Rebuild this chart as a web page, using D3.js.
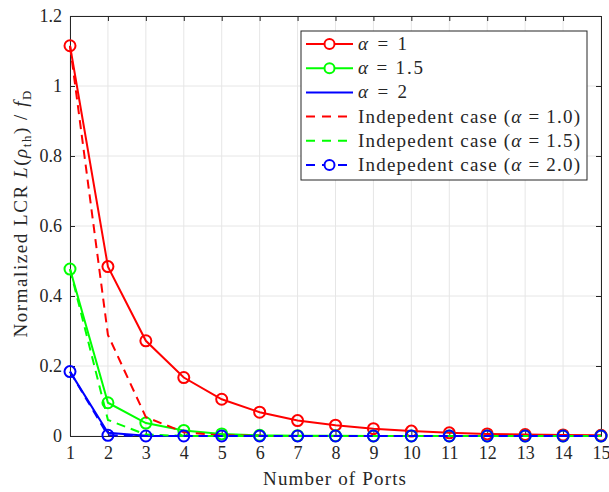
<!DOCTYPE html>
<html>
<head>
<meta charset="utf-8">
<script src="https://cdn.jsdelivr.net/npm/d3@7"></script>
<style>
  body { margin: 0; background: #fff; }
  text { font-family: "Liberation Serif", "DejaVu Serif", serif; fill: #262626; }
</style>
</head>
<body>
<div id="chart"></div>
<script>
// number of ports
var ports = [1, 2, 3, 4, 5, 6, 7, 8, 9, 10, 11, 12, 13, 14, 15];

// correlated case
var alpha1 = [1.115, 0.484, 0.272, 0.167, 0.105, 0.068, 0.044, 0.031, 0.021, 0.014, 0.009, 0.006, 0.004, 0.003, 0.002];
var alpha15 = [0.477, 0.095, 0.037, 0.016, 0.006, 0.002, 0.001, 0.0005, 0.0002, 0.0001, 0, 0, 0, 0, 0];
var alpha2 = [0.184, 0.009, 0.001, 0.0002, 0, 0, 0, 0, 0, 0, 0, 0, 0, 0, 0];

// independent case
var indep1 = [1.115, 0.289, 0.054, 0.011, 0.002, 0.0004, 0, 0, 0, 0, 0, 0, 0, 0, 0];
var indep15 = [0.477, 0.046, 0.004, 0.0003, 0, 0, 0, 0, 0, 0, 0, 0, 0, 0, 0];
var indep2 = [0.184, 0.002, 0, 0, 0, 0, 0, 0, 0, 0, 0, 0, 0, 0, 0];

var yTicks = [0, 0.2, 0.4, 0.6, 0.8, 1, 1.2];

var series = [
  { label: ['α', ' = 1'], len: 49, values: alpha1, color: '#ff0000', dash: null, marker: true },
  { label: ['α', ' = 1.5'], len: 65, values: alpha15, color: '#00ff00', dash: null, marker: true },
  { label: ['α', ' = 2'], len: 49, values: alpha2, color: '#0000ff', dash: null, marker: false },
  { label: ['Indepedent case (', 'α', ' = 1.0)'], len: 222, values: indep1, color: '#ff0000', dash: '9,6', marker: false },
  { label: ['Indepedent case (', 'α', ' = 1.5)'], len: 222, values: indep15, color: '#00ff00', dash: '9,6', marker: false },
  { label: ['Indepedent case (', 'α', ' = 2.0)'], len: 222, values: indep2, color: '#0000ff', dash: '9,6', marker: true }
];

var width = 609, height = 492;
var margin = { top: 16, right: 8, bottom: 56, left: 70 };
var w = width - margin.left - margin.right;
var h = height - margin.top - margin.bottom;

var svg = d3.select('#chart').append('svg')
    .attr('width', width)
    .attr('height', height);

var g = svg.append('g')
    .attr('transform', 'translate(' + margin.left + ',' + margin.top + ')');

var x = d3.scaleLinear().domain([1, 15]).range([0, w]);
var y = d3.scaleLinear().domain([0, 1.2]).range([h, 0]);

// grid
g.append('g').selectAll('line').data(ports).enter().append('line')
    .attr('x1', function(d) { return x(d); })
    .attr('x2', function(d) { return x(d); })
    .attr('y1', 0).attr('y2', h)
    .attr('stroke', '#e6e6e6').attr('stroke-width', 1);
g.append('g').selectAll('line').data(yTicks).enter().append('line')
    .attr('y1', function(d) { return y(d); })
    .attr('y2', function(d) { return y(d); })
    .attr('x1', 0).attr('x2', w)
    .attr('stroke', '#e6e6e6').attr('stroke-width', 1);

// axes
var xAxis = g.append('g')
    .attr('transform', 'translate(0,' + h + ')')
    .call(d3.axisBottom(x).tickValues(ports).tickSizeInner(-5).tickSizeOuter(0).tickPadding(10).tickFormat(d3.format('d')));
var yAxis = g.append('g')
    .call(d3.axisLeft(y).tickValues(yTicks).tickSizeInner(-5).tickSizeOuter(0).tickPadding(8).tickFormat(function(d) { return d3.format('')(d); }));
var xTop = g.append('g')
    .call(d3.axisTop(x).tickValues(ports).tickSizeInner(-5).tickSizeOuter(0).tickFormat(''));
var yRight = g.append('g')
    .attr('transform', 'translate(' + w + ',0)')
    .call(d3.axisRight(y).tickValues(yTicks).tickSizeInner(-5).tickSizeOuter(0).tickFormat(''));

[xAxis, yAxis, xTop, yRight].forEach(function(a) {
  a.select('.domain').attr('stroke', '#262626').attr('stroke-width', 1);
  a.selectAll('.tick line').attr('stroke', '#262626');
  a.selectAll('.tick text').attr('font-size', 18).attr('fill', '#262626')
    .attr('font-family', '"Liberation Serif", serif');
});

// lines
var line = d3.line()
    .x(function(d, i) { return x(ports[i]); })
    .y(function(d) { return y(d); });

series.forEach(function(s) {
  g.append('path')
      .datum(s.values)
      .attr('d', line)
      .attr('fill', 'none')
      .attr('stroke', s.color)
      .attr('stroke-width', 2)
      .attr('stroke-dasharray', s.dash);
  if (s.marker) {
    g.append('g').selectAll('circle').data(s.values).enter().append('circle')
        .attr('cx', function(d, i) { return x(ports[i]); })
        .attr('cy', function(d) { return y(d); })
        .attr('r', 5.5)
        .attr('fill', 'none')
        .attr('stroke', s.color)
        .attr('stroke-width', 2);
  }
});

// legend
var lg = svg.append('g').attr('transform', 'translate(301,31)');
lg.append('rect')
    .attr('width', 286).attr('height', 149)
    .attr('fill', '#fff').attr('stroke', '#262626').attr('stroke-width', 1);

series.forEach(function(s, i) {
  var yy = 13 + i * 24.2;
  var row = lg.append('g').attr('transform', 'translate(0,' + yy + ')');
  row.append('line')
      .attr('x1', 5).attr('x2', 52)
      .attr('stroke', s.color).attr('stroke-width', 2)
      .attr('stroke-dasharray', s.dash ? '9,7' : null);
  if (s.marker) {
    row.append('circle').attr('cx', 28.5).attr('r', 5)
        .attr('fill', '#fff').attr('stroke', s.color).attr('stroke-width', 2);
  }
  var t = row.append('text').attr('x', 57).attr('y', 6).attr('font-size', 19)
      .attr('textLength', s.len).attr('lengthAdjust', 'spacing');
  s.label.forEach(function(p) {
    t.append('tspan').text(p).attr('font-style', p === 'α' ? 'italic' : null);
  });
});

// axis titles
svg.append('text')
    .attr('x', 334.5).attr('y', 485)
    .attr('text-anchor', 'middle').attr('font-size', 19)
    .attr('textLength', 143).attr('lengthAdjust', 'spacing')
    .text('Number of Ports');

var yl = svg.append('text')
    .attr('transform', 'translate(27,214) rotate(-90)')
    .attr('text-anchor', 'middle').attr('font-size', 19)
    .attr('textLength', 247).attr('lengthAdjust', 'spacing');
yl.append('tspan').text('Normalized LCR ');
yl.append('tspan').attr('font-style', 'italic').text('L');
yl.append('tspan').text('(');
yl.append('tspan').attr('font-style', 'italic').text('ρ');
yl.append('tspan').attr('font-size', 13).attr('dy', 4).text('th');
yl.append('tspan').attr('dy', -4).text(') / ');
yl.append('tspan').attr('font-style', 'italic').text('f');
yl.append('tspan').attr('font-size', 13).attr('dy', 4).text('D');
</script>
</body>
</html>
